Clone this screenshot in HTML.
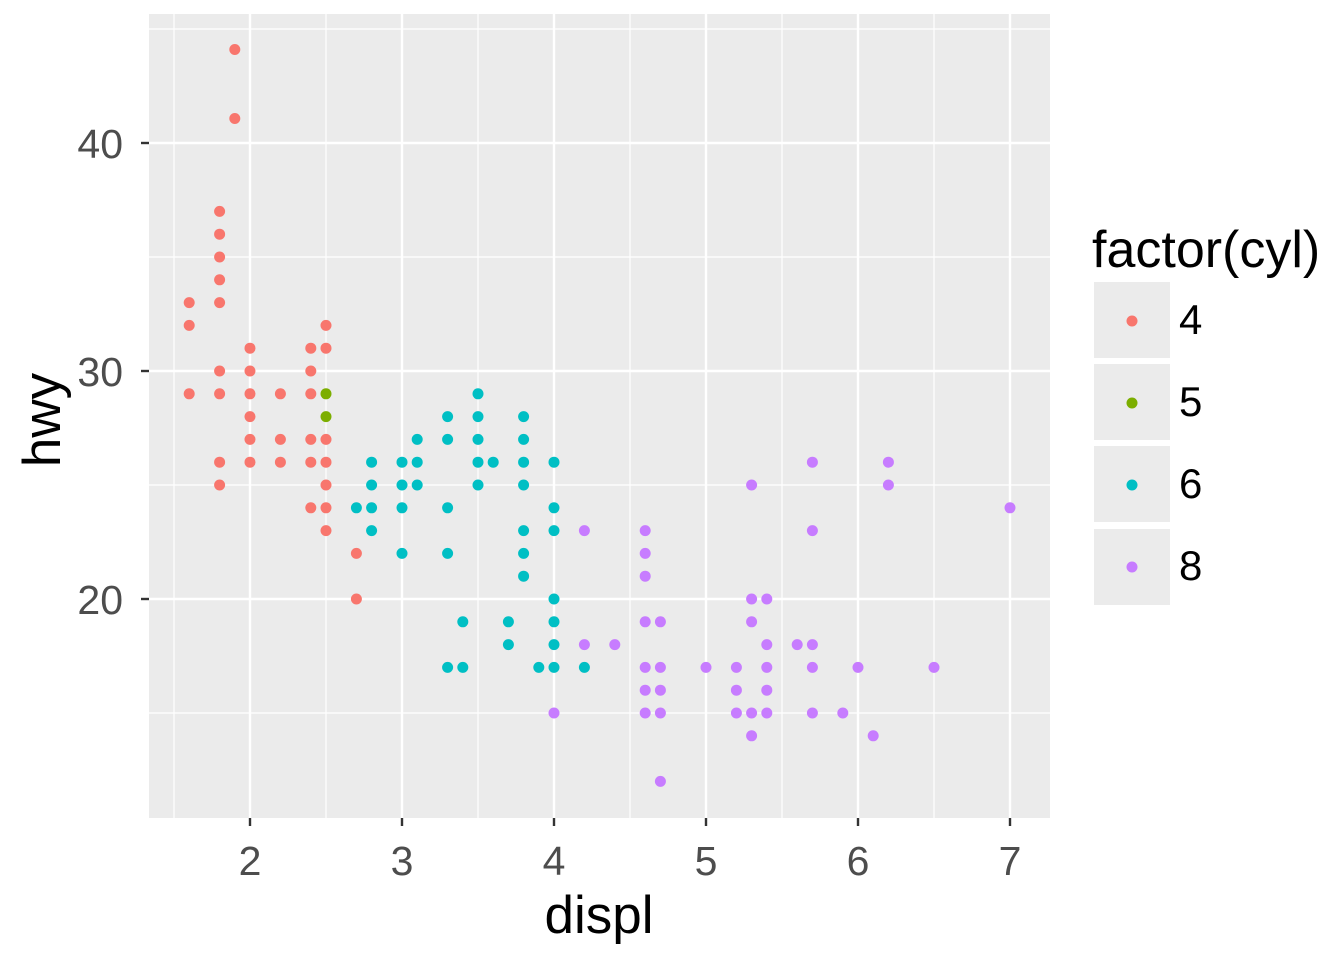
<!DOCTYPE html>
<html><head><meta charset="utf-8"><style>
html,body{margin:0;padding:0;background:#fff}
svg{display:block}
text{font-family:"Liberation Sans",sans-serif}
</style></head><body>
<svg width="1344" height="960" viewBox="0 0 1344 960" xmlns="http://www.w3.org/2000/svg">
<rect x="149" y="14" width="901" height="804" fill="#EBEBEB"/>
<g stroke="#fff" stroke-width="1.2">
<line x1="174" y1="14" x2="174" y2="818"/><line x1="326" y1="14" x2="326" y2="818"/><line x1="478" y1="14" x2="478" y2="818"/><line x1="630" y1="14" x2="630" y2="818"/><line x1="782" y1="14" x2="782" y2="818"/><line x1="934" y1="14" x2="934" y2="818"/>
<line x1="149" y1="29" x2="1050" y2="29"/><line x1="149" y1="257" x2="1050" y2="257"/><line x1="149" y1="485" x2="1050" y2="485"/><line x1="149" y1="713" x2="1050" y2="713"/>
</g>
<g stroke="#fff" stroke-width="2.4">
<line x1="250" y1="14" x2="250" y2="818"/><line x1="402" y1="14" x2="402" y2="818"/><line x1="554" y1="14" x2="554" y2="818"/><line x1="706" y1="14" x2="706" y2="818"/><line x1="858" y1="14" x2="858" y2="818"/><line x1="1010" y1="14" x2="1010" y2="818"/>
<line x1="149" y1="143" x2="1050" y2="143"/><line x1="149" y1="371" x2="1050" y2="371"/><line x1="149" y1="599" x2="1050" y2="599"/>
</g>
<g stroke="#333" stroke-width="2.4">
<line x1="250" y1="818" x2="250" y2="826"/><line x1="402" y1="818" x2="402" y2="826"/><line x1="554" y1="818" x2="554" y2="826"/><line x1="706" y1="818" x2="706" y2="826"/><line x1="858" y1="818" x2="858" y2="826"/><line x1="1010" y1="818" x2="1010" y2="826"/>
<line x1="141" y1="143" x2="149" y2="143"/><line x1="141" y1="371" x2="149" y2="371"/><line x1="141" y1="599" x2="149" y2="599"/>
</g>
<g fill="#4D4D4D" font-size="41" text-anchor="middle">
<text x="250" y="875">2</text><text x="402" y="875">3</text><text x="554" y="875">4</text><text x="706" y="875">5</text><text x="858" y="875">6</text><text x="1010" y="875">7</text>
</g>
<g fill="#4D4D4D" font-size="41" text-anchor="end">
<text x="123" y="158">40</text><text x="123" y="386">30</text><text x="123" y="614">20</text>
</g>
<text x="599" y="933" font-size="53" text-anchor="middle" fill="#000">displ</text>
<text transform="translate(60,420) rotate(-90)" font-size="53" text-anchor="middle" fill="#000">hwy</text>

<g fill="#F8766D">
<g transform="translate(189.2,0)"><circle cy="302.6" r="5.5"/><circle cy="325.4" r="5.5"/><circle cy="393.8" r="5.5"/></g>
<g transform="translate(219.6,0)"><circle cy="211.4" r="5.5"/><circle cy="234.2" r="5.5"/><circle cy="257" r="5.5"/><circle cy="279.8" r="5.5"/><circle cy="302.6" r="5.5"/><circle cy="371" r="5.5"/><circle cy="393.8" r="5.5"/><circle cy="462.2" r="5.5"/><circle cy="485" r="5.5"/></g>
<g transform="translate(234.8,0)"><circle cy="49.5" r="5.5"/><circle cy="118.5" r="5.5"/></g>
<g transform="translate(250,0)"><circle cy="348.2" r="5.5"/><circle cy="371" r="5.5"/><circle cy="393.8" r="5.5"/><circle cy="416.6" r="5.5"/><circle cy="439.4" r="5.5"/><circle cy="462.2" r="5.5"/></g>
<g transform="translate(280.4,0)"><circle cy="393.8" r="5.5"/><circle cy="439.4" r="5.5"/><circle cy="462.2" r="5.5"/></g>
<g transform="translate(310.8,0)"><circle cy="348.2" r="5.5"/><circle cy="371" r="5.5"/><circle cy="393.8" r="5.5"/><circle cy="439.4" r="5.5"/><circle cy="462.2" r="5.5"/><circle cy="507.8" r="5.5"/></g>
<g transform="translate(326,0)"><circle cy="325.4" r="5.5"/><circle cy="348.2" r="5.5"/><circle cy="439.4" r="5.5"/><circle cy="462.2" r="5.5"/><circle cy="485" r="5.5"/><circle cy="507.8" r="5.5"/><circle cy="530.6" r="5.5"/></g>
<g transform="translate(356.4,0)"><circle cy="553.4" r="5.5"/><circle cy="599" r="5.5"/></g>
</g>
<g fill="#7CAE00"><circle cx="326" cy="393.8" r="5.5"/><circle cx="326" cy="416.6" r="5.5"/></g>
<g fill="#00BFC4">
<g transform="translate(356.4,0)"><circle cy="507.8" r="5.5"/></g>
<g transform="translate(371.6,0)"><circle cy="462.2" r="5.5"/><circle cy="485" r="5.5"/><circle cy="507.8" r="5.5"/><circle cy="530.6" r="5.5"/></g>
<g transform="translate(402,0)"><circle cy="462.2" r="5.5"/><circle cy="485" r="5.5"/><circle cy="507.8" r="5.5"/><circle cy="553.4" r="5.5"/></g>
<g transform="translate(417.2,0)"><circle cy="439.4" r="5.5"/><circle cy="462.2" r="5.5"/><circle cy="485" r="5.5"/></g>
<g transform="translate(447.6,0)"><circle cy="416.6" r="5.5"/><circle cy="439.4" r="5.5"/><circle cy="507.8" r="5.5"/><circle cy="553.4" r="5.5"/><circle cy="667.4" r="5.5"/></g>
<g transform="translate(462.8,0)"><circle cy="621.8" r="5.5"/><circle cy="667.4" r="5.5"/></g>
<g transform="translate(478,0)"><circle cy="393.8" r="5.5"/><circle cy="416.6" r="5.5"/><circle cy="439.4" r="5.5"/><circle cy="462.2" r="5.5"/><circle cy="485" r="5.5"/></g>
<g transform="translate(493.2,0)"><circle cy="462.2" r="5.5"/></g>
<g transform="translate(508.4,0)"><circle cy="621.8" r="5.5"/><circle cy="644.6" r="5.5"/></g>
<g transform="translate(523.6,0)"><circle cy="416.6" r="5.5"/><circle cy="439.4" r="5.5"/><circle cy="462.2" r="5.5"/><circle cy="485" r="5.5"/><circle cy="530.6" r="5.5"/><circle cy="553.4" r="5.5"/><circle cy="576.2" r="5.5"/></g>
<g transform="translate(538.8,0)"><circle cy="667.4" r="5.5"/></g>
<g transform="translate(554,0)"><circle cy="462.2" r="5.5"/><circle cy="507.8" r="5.5"/><circle cy="530.6" r="5.5"/><circle cy="599" r="5.5"/><circle cy="621.8" r="5.5"/><circle cy="644.6" r="5.5"/><circle cy="667.4" r="5.5"/></g>
<g transform="translate(584.4,0)"><circle cy="667.4" r="5.5"/></g>
</g>
<g fill="#C77CFF">
<g transform="translate(554,0)"><circle cy="713" r="5.5"/></g>
<g transform="translate(584.4,0)"><circle cy="530.6" r="5.5"/><circle cy="644.6" r="5.5"/></g>
<g transform="translate(614.8,0)"><circle cy="644.6" r="5.5"/></g>
<g transform="translate(645.2,0)"><circle cy="530.6" r="5.5"/><circle cy="553.4" r="5.5"/><circle cy="576.2" r="5.5"/><circle cy="621.8" r="5.5"/><circle cy="667.4" r="5.5"/><circle cy="690.2" r="5.5"/><circle cy="713" r="5.5"/></g>
<g transform="translate(660.4,0)"><circle cy="621.8" r="5.5"/><circle cy="667.4" r="5.5"/><circle cy="690.2" r="5.5"/><circle cy="713" r="5.5"/><circle cy="781.4" r="5.5"/></g>
<g transform="translate(706,0)"><circle cy="667.4" r="5.5"/></g>
<g transform="translate(736.4,0)"><circle cy="667.4" r="5.5"/><circle cy="690.2" r="5.5"/><circle cy="713" r="5.5"/></g>
<g transform="translate(751.6,0)"><circle cy="485" r="5.5"/><circle cy="599" r="5.5"/><circle cy="621.8" r="5.5"/><circle cy="713" r="5.5"/><circle cy="735.8" r="5.5"/></g>
<g transform="translate(766.8,0)"><circle cy="599" r="5.5"/><circle cy="644.6" r="5.5"/><circle cy="667.4" r="5.5"/><circle cy="690.2" r="5.5"/><circle cy="713" r="5.5"/></g>
<g transform="translate(797.2,0)"><circle cy="644.6" r="5.5"/></g>
<g transform="translate(812.4,0)"><circle cy="462.2" r="5.5"/><circle cy="530.6" r="5.5"/><circle cy="644.6" r="5.5"/><circle cy="667.4" r="5.5"/><circle cy="713" r="5.5"/></g>
<g transform="translate(842.8,0)"><circle cy="713" r="5.5"/></g>
<g transform="translate(858,0)"><circle cy="667.4" r="5.5"/></g>
<g transform="translate(873.2,0)"><circle cy="735.8" r="5.5"/></g>
<g transform="translate(888.4,0)"><circle cy="462.2" r="5.5"/><circle cy="485" r="5.5"/></g>
<g transform="translate(934,0)"><circle cy="667.4" r="5.5"/></g>
<g transform="translate(1010,0)"><circle cy="507.8" r="5.5"/></g>
</g>

<text x="1092" y="267" font-size="52" fill="#000">factor(cyl)</text>
<g fill="#EBEBEB">
<rect x="1094" y="282" width="76" height="76"/><rect x="1094" y="364" width="76" height="76"/><rect x="1094" y="446" width="76" height="76"/><rect x="1094" y="529" width="76" height="76"/>
</g>
<circle cx="1132" cy="321" r="5.5" fill="#F8766D"/>
<circle cx="1132" cy="403" r="5.5" fill="#7CAE00"/>
<circle cx="1132" cy="485" r="5.5" fill="#00BFC4"/>
<circle cx="1132" cy="567" r="5.5" fill="#C77CFF"/>
<g font-size="42" fill="#000">
<text x="1179" y="334">4</text><text x="1179" y="416">5</text><text x="1179" y="498">6</text><text x="1179" y="580">8</text>
</g>
</svg>
</body></html>
